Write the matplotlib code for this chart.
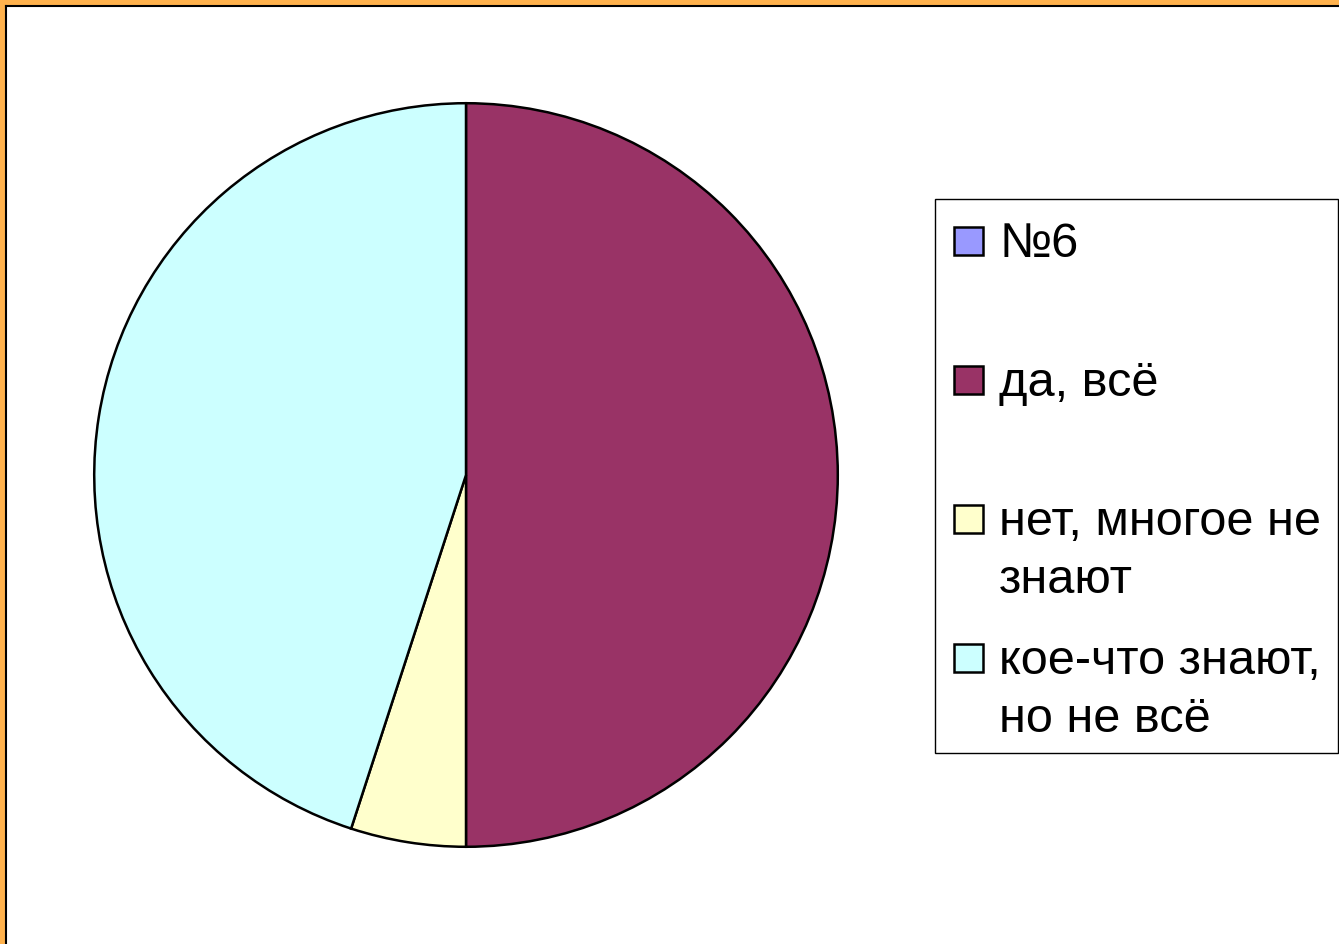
import matplotlib.pyplot as plt
from matplotlib.patches import Rectangle

# data
labels = ['№6', 'да, всё', 'нет, многое не\nзнают', 'кое-что знают,\nно не всё']
values = [0, 10, 1, 9]
colors = ['#9999FF', '#993366', '#FFFFCC', '#CCFFFF']

W, H = 1339, 944
fig = plt.figure(figsize=(W / 100, H / 100), dpi=100, facecolor='white')

# orange frame (top and left only, the rest is cut off)
fig.patches.append(Rectangle((0, 1 - 5 / H), 1, 5 / H, transform=fig.transFigure,
                             facecolor='#FFB24D', edgecolor='none'))
fig.patches.append(Rectangle((0, 0), 5 / W, 1, transform=fig.transFigure,
                             facecolor='#FFB24D', edgecolor='none'))
fig.add_artist(plt.Line2D([5.5 / W, 1], [1 - 6 / H, 1 - 6 / H], transform=fig.transFigure,
                          color='black', lw=1.5))
fig.add_artist(plt.Line2D([6 / W, 6 / W], [0, 1 - 6 / H], transform=fig.transFigure,
                          color='black', lw=1.5))

# pie axes: center ~(466, 475) px, radius ~372 px
cx, cy, r = 466, 475, 375.5
ax = fig.add_axes([(cx - r) / W, 1 - (cy + r) / H, 2 * r / W, 2 * r / H])
ax.pie(values, colors=colors, startangle=90, counterclock=False, radius=1,
       wedgeprops=dict(edgecolor='black', linewidth=1.8))
ax.set_xlim(-1.01, 1.01)
ax.set_ylim(-1.01, 1.01)
ax.set_aspect('equal')
ax.axis('off')

# legend drawn by hand to mimic the Excel layout
fig.patches.append(Rectangle((935 / W, 1 - 753 / H), (1338 - 935) / W, (753 - 199) / H,
                             transform=fig.transFigure, facecolor='white',
                             edgecolor='black', linewidth=1))
first_y = 241
step = 139
line_gap = 58
for i, (lab, col) in enumerate(zip(labels, colors)):
    yc = first_y + i * step
    fig.patches.append(Rectangle((954 / W, 1 - (yc + 14) / H), 29 / W, 28 / H,
                                 transform=fig.transFigure, facecolor=col,
                                 edgecolor='black', linewidth=1.8))
    for j, line in enumerate(lab.split('\n')):
        base = yc + 16 + j * line_gap
        fig.text(999 / W, 1 - base / H, line, ha='left', va='baseline',
                 fontsize=35, family='Liberation Sans')

fig.savefig('out.png', dpi=100, facecolor='white')
